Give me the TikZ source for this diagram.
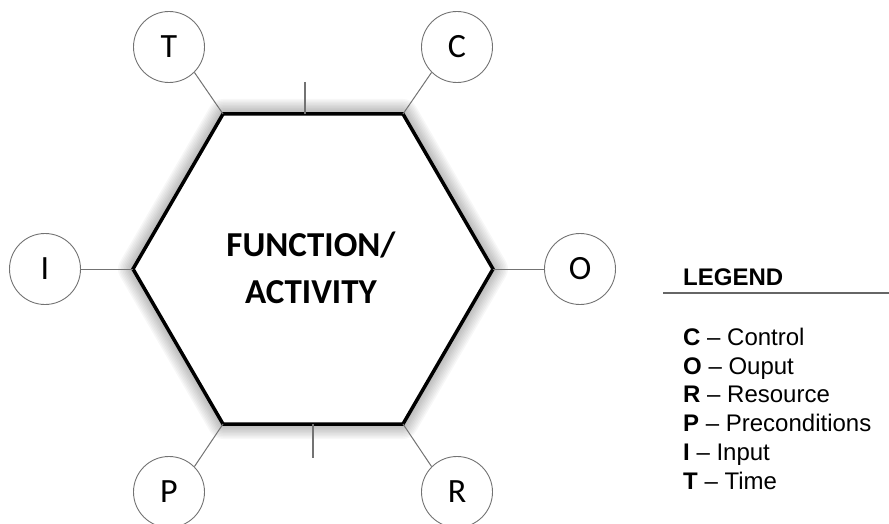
\documentclass[tikz,border=0pt]{standalone}
\usepackage{fontspec}
\setmainfont{Liberation Sans}
\newfontfamily\calibri{Carlito}
\usepackage{tikz}
\usetikzlibrary{positioning}

\begin{document}
\begin{tikzpicture}[x=1pt,y=-1pt]
		\tikzstyle{letternode} = [draw=black!55, line width=0.9pt, shape=circle, minimum size=71pt, inner sep=0pt, font=\calibri\fontsize{34}{40}\selectfont]
		\tikzstyle{link} = [draw=black!55, line width=1pt]
		\tikzstyle{legenditem} = [anchor=base west, inner sep=0pt, font=\fontsize{24}{28}\selectfont]
		\useasboundingbox (0,0) rectangle (889,524);

	% Vertices of the hexagon
		\coordinate (tl) at (223,114);
		\coordinate (tr) at (403,114);
		\coordinate (rr) at (493,269);
		\coordinate (br) at (403,424);
		\coordinate (bl) at (223,424);
		\coordinate (ll) at (133,269);

	% Soft glow, then the hexagon
		\foreach \w in {3,6,...,30}
			\draw[black, opacity=0.03, line width=\w pt, line join=round, shift={(0,3)}] (tl) -- (tr) -- (rr) -- (br) -- (bl) -- (ll) -- cycle;
		\fill[white] (tl) -- (tr) -- (rr) -- (br) -- (bl) -- (ll) -- cycle;
		\draw[line width=3.5pt, line join=miter] (tl) -- (tr) -- (rr) -- (br) -- (bl) -- (ll) -- cycle;

		\node[font=\calibri\bfseries\fontsize{35}{47}\selectfont, align=center] (fa) at (311,268) {FUNCTION/\\ACTIVITY};

	% Nodos
		\node[letternode] (T) at (169,47) {T};
		\node[letternode] (C) at (457,47) {C};
		\node[letternode] (I) at (45,269) {I};
		\node[letternode] (O) at (580,269) {O};
		\node[letternode] (P) at (169,492) {P};
		\node[letternode] (R) at (457,492) {R};

	% Enlaces
		\draw[link] (tl) -- (T.-45);
		\draw[link] (tr) -- (C.-135);
		\draw[link] (ll) -- (I);
		\draw[link] (rr) -- (O);
		\draw[link] (bl) -- (P.45);
		\draw[link] (br) -- (R.135);

		\coordinate (toptick) at (305,82);
		\coordinate (topedge) at (305,114);
		\coordinate (bottick) at (313,458);
		\coordinate (botedge) at (313,424);
		\draw[link, line width=1.5pt] (toptick) -- (topedge);
		\draw[link, line width=1.5pt] (botedge) -- (bottick);

	% Legend
		\node[legenditem, font=\bfseries\fontsize{24}{28}\selectfont] (legend) at (683,285) {LEGEND};
		\coordinate (ruleL) at (663,293);
		\coordinate (ruleR) at (889,293);
		\draw[draw=black!60, line width=1.5pt] (ruleL) -- (ruleR);

		\node[legenditem] (legC) at (683,345) {\textbf{C} – Control};
		\node[legenditem] (legO) at (683,374) {\textbf{O} – Ouput};
		\node[legenditem] (legR) at (683,402) {\textbf{R} – Resource};
		\node[legenditem] (legP) at (683,431) {\textbf{P} – Preconditions};
		\node[legenditem] (legI) at (683,460) {\textbf{I} – Input};
		\node[legenditem] (legT) at (683,489) {\textbf{T} – Time};

	\end{tikzpicture}
\end{document}
